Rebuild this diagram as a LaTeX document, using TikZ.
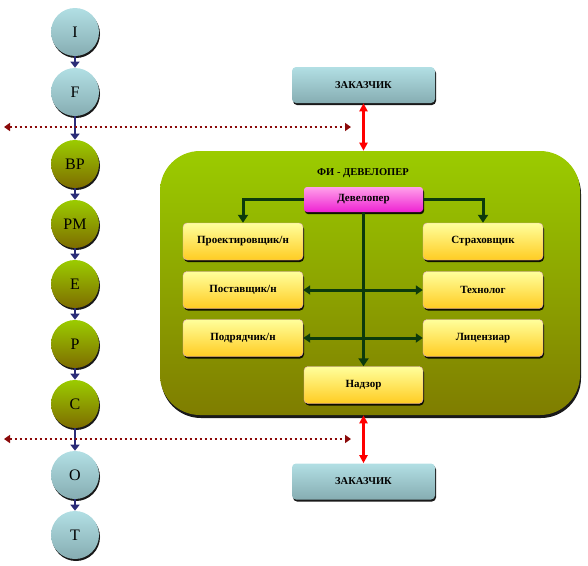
\documentclass[tikz,border=0pt]{standalone}
\usepackage{fontspec}
\setmainfont{Liberation Serif}
\usepackage{tikz}
\usetikzlibrary{shapes, positioning, arrows.meta, shadows}

\definecolor{cyantop}{HTML}{B2DFE4}
\definecolor{cyanbot}{HTML}{86ADB2}
\definecolor{greentop}{HTML}{9BCC00}
\definecolor{greenbot}{HTML}{7E6C00}
\definecolor{roombot}{HTML}{7F7D00}
\definecolor{pinktop}{HTML}{FFA0EA}
\definecolor{pinkbot}{HTML}{EE22D2}
\definecolor{yeltop}{HTML}{FFFF9C}
\definecolor{yelbot}{HTML}{FFCC22}
\definecolor{yelline}{HTML}{E4A6C4}
\definecolor{stepblue}{HTML}{2B2C78}
\definecolor{linkgreen}{HTML}{0C3A0C}
\definecolor{borderred}{HTML}{8B0A0A}

\begin{document}
\begin{tikzpicture}[x=1pt, y=-1pt, semithick, node distance = 60pt]
\tikzstyle{every node}=[font=\bfseries\fontsize{11}{12}\selectfont]
\tikzstyle{phase}=[circle, minimum size=48pt, inner sep=0pt, font=\fontsize{16}{18}\selectfont,
  drop shadow={shadow xshift=1pt, shadow yshift=-2pt, fill=black, opacity=0.9}]
\tikzstyle{light}=[phase, top color=cyantop, bottom color=cyanbot]
\tikzstyle{dark}=[phase, top color=greentop, bottom color=greenbot]
\tikzstyle{client}=[rectangle, rounded corners=4pt, minimum width=143pt, minimum height=36pt,
  top color=cyantop, bottom color=cyanbot, font=\bfseries\fontsize{10.5}{12}\selectfont,
  drop shadow={shadow xshift=1pt, shadow yshift=-2pt, fill=black, opacity=0.9}]
\tikzstyle{party}=[rectangle, rounded corners=4pt, draw=yelline, thin, minimum width=120pt, minimum height=37pt,
  top color=yeltop, bottom color=yelbot,
  drop shadow={shadow xshift=1pt, shadow yshift=-2pt, fill=black, opacity=0.9}]
\tikzstyle{flow}=[-{Triangle[length=6pt, width=9pt]}, line width=2.6pt, stepblue]
\tikzstyle{link}=[line width=3pt, linkgreen]
\tikzstyle{border}=[{Triangle[length=6pt, width=8pt]}-{Triangle[length=6pt, width=8pt]},
  borderred, line width=2.8pt, dash pattern=on 2.6pt off 2.4pt]
\tikzstyle{tie}=[{Triangle[length=8pt, width=8pt]}-{Triangle[length=8pt, width=8pt]}, red, line width=2.4pt]

\useasboundingbox (0,0) rectangle (588,565);

% phases
\node[light] (I) at (75,32) {I};
\node[light] (F) [below of=I] {F};
\node[dark]  (BP) [below of=F, yshift=-12pt] {BP};
\node[dark]  (PM) [below of=BP] {PM};
\node[dark]  (E) [below of=PM] {E};
\node[dark]  (P) [below of=E] {P};
\node[dark]  (C) [below of=P] {C};
\node[light] (O) [below of=C, yshift=-11pt] {O};
\node[light] (T) [below of=O] {T};

\foreach \a/\b in {I/F, F/BP, BP/PM, PM/E, E/P, P/C, C/O, O/T}
  \draw[flow] (\a.south) -- (\b.north);

% room
\node[rectangle, rounded corners=40pt, minimum width=420pt, minimum height=264pt,
  top color=greentop, bottom color=roombot,
  drop shadow={shadow xshift=1pt, shadow yshift=-3pt, fill=black, opacity=0.9}] (FI) at (370,283) {};
\node[font=\bfseries\fontsize{10.5}{12}\selectfont] (title) at (363,173) {ФИ - ДЕВЕЛОПЕР};

\node[client] (Z) at (363.5,85) {ЗАКАЗЧИК};
\node[client] (Z') at (363.5,481.5) {ЗАКАЗЧИК};

\node[rectangle, rounded corners=3pt, minimum width=119pt, minimum height=25pt,
  top color=pinktop, bottom color=pinkbot,
  drop shadow={shadow xshift=1pt, shadow yshift=-2pt, fill=black, opacity=0.9}] (D) at (363.5,199.5) {Девелопер};

\node[party] (A) at (243,241.5) {Проектировщик/н};
\node[party] (A') [below of=A, node distance=48.5pt] {Поставщик/н};
\node[party] (A'') [below of=A', node distance=48pt] {Подрядчик/н};
\node[party] (B) at (483,241.5) {Страховщик};
\node[party] (B') [below of=B, node distance=48.5pt] {Технолог};
\node[party] (B'') [below of=B', node distance=48pt] {Лицензиар};
\node[party, minimum width=119pt] (N) at (363.5,385) {Надзор};

\draw[link, -{Triangle[length=8pt, width=10pt]}] (D.west) -| (A.north);
\draw[link, -{Triangle[length=8pt, width=10pt]}] (D.east) -| (B.north);
\draw[link, -{Triangle[length=8pt, width=10pt]}] (D.south) -- (N.north);
\draw[link, {Triangle[length=7pt, width=9pt]}-{Triangle[length=7pt, width=9pt]}] (A'.east) -- (B'.west);
\draw[link, {Triangle[length=7pt, width=9pt]}-{Triangle[length=7pt, width=9pt]}] (A''.east) -- (B''.west);

\draw[tie] (Z.south) -- (Z.south |- FI.north);
\draw[tie] (Z'.north) -- (Z'.north |- FI.south);

% borders
\coordinate (L1) at (4,127);
\coordinate (R1) at (351,127);
\coordinate (L2) at (4,439);
\coordinate (R2) at (351,439);
\draw[border] (L1) -- (R1);
\draw[border] (L2) -- (R2);

\end{tikzpicture}
\end{document}
